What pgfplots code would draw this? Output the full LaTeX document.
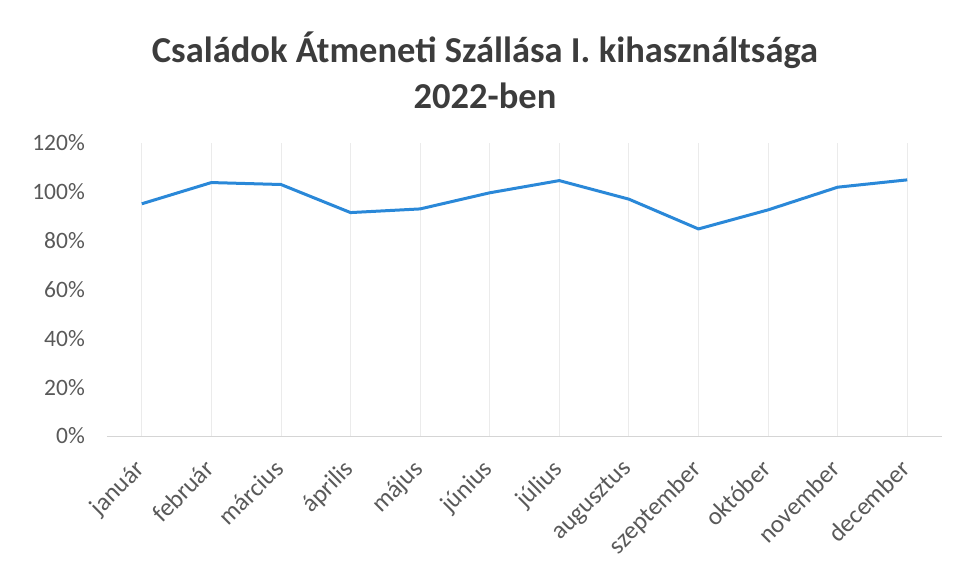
\documentclass[border=0pt]{standalone}
\usepackage{pgfplots}
\pgfplotsset{compat=1.18}
\usepackage{fontspec}
\setmainfont{Carlito}
\definecolor{lineblue}{HTML}{2A88D8}
\definecolor{ticktext}{HTML}{595959}
\definecolor{titletext}{HTML}{3C3C3C}
\definecolor{gridc}{HTML}{EBEBEB}
\begin{document}
\begin{tikzpicture}[x=1pt,y=1pt]
\path[use as bounding box] (-107,-134) rectangle (847,436);
\begin{axis}[
  at={(0,0)}, anchor=south west,
  scale only axis,
  width=835pt, height=293pt,
  xmin=-0.5, xmax=11.5,
  ymin=0, ymax=1.2,
  xtick={0,...,11},
  xticklabels={január,február,március,április,május,június,július,augusztus,szeptember,október,november,december},
  ytick={0,0.2,0.4,0.6,0.8,1.0,1.2},
  yticklabels={0\%,20\%,40\%,60\%,80\%,100\%,120\%},
  /pgf/number format/assume math mode=true,
  axis line style={draw=none},
  major tick length=0pt,
  xmajorgrids,
  grid style={gridc, line width=0.8pt},
  tick label style={font=\fontsize{23.5}{27}\selectfont, text=ticktext},
  yticklabel style={inner sep=0pt, xshift=-22pt},
  xticklabel style={rotate=45, anchor=north east, inner sep=1pt, xshift=-20.5pt, yshift=-9pt, font=\fontsize{25}{29}\selectfont},
  clip=false,
]
\draw[gridc!80!gray, line width=0.8pt] (axis cs:-0.5,0) -- (axis cs:11.5,0);
\addplot[lineblue, line width=3pt, line join=round, mark=none] coordinates {
(0,0.951) (1,1.038) (2,1.030) (3,0.915) (4,0.930) (5,0.996)
(6,1.046) (7,0.970) (8,0.848) (9,0.926) (10,1.019) (11,1.049)
};
\end{axis}
\node[font=\bfseries\fontsize{36.5}{46}\selectfont, text=titletext, align=center] at (378,366) {Családok Átmeneti Szállása I. kihasználtsága\\2022-ben};
\end{tikzpicture}
\end{document}
